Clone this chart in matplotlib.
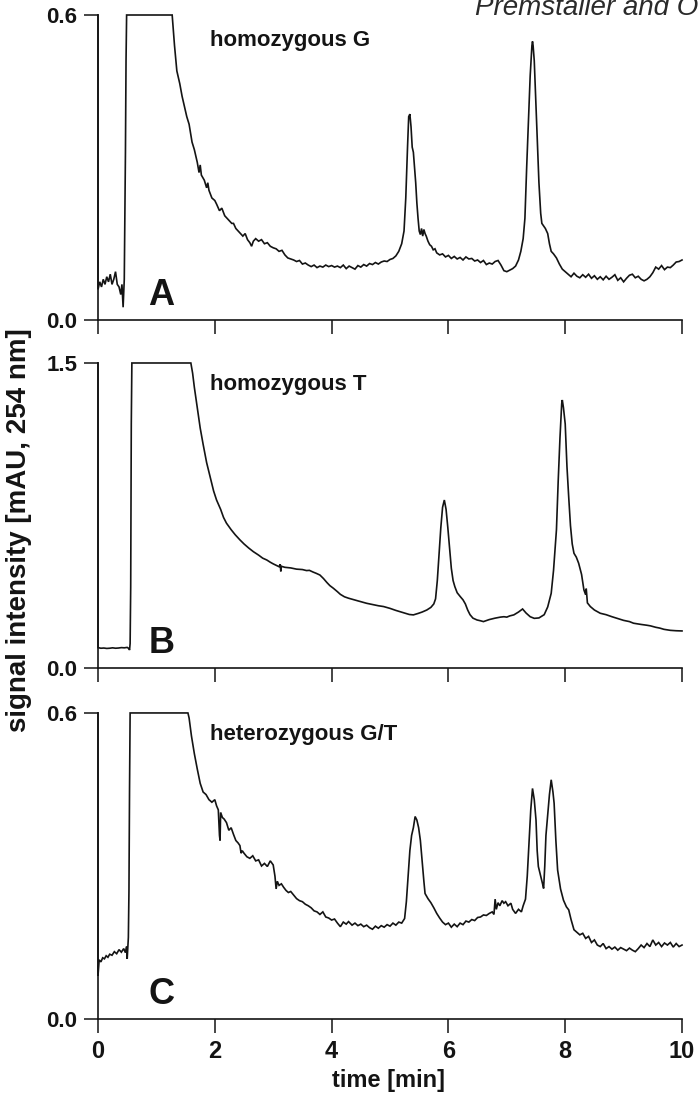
"""
Ion-pair RP-HPLC chromatograms of a G/T SNP (panels A-C).
Values read off the published figure by eye.
"""

import matplotlib.pyplot as plt

# ─────────────────────────────────────────────
# DATA  (time in min, signal in mAU)
# ─────────────────────────────────────────────

A_TIME = [0.00, 0.00, 0.03, 0.06, 0.09, 0.12, 0.15, 0.18, 0.21, 0.24, 0.27, 0.30, 0.33, 0.36, 0.39,
          0.41, 0.43, 0.45, 0.47, 0.48, 0.49, 1.27, 1.31, 1.35, 1.40, 1.44, 1.48, 1.52, 1.56, 1.61,
          1.65, 1.70, 1.73, 1.75, 1.77, 1.82, 1.86, 1.88, 1.90, 1.95, 2.00, 2.03, 2.08, 2.12, 2.17,
          2.21, 2.25, 2.29, 2.32, 2.36, 2.40, 2.44, 2.48, 2.52, 2.56, 2.60, 2.63, 2.66, 2.70, 2.75,
          2.80, 2.85, 2.90, 2.95, 3.00, 3.05, 3.10, 3.15, 3.20, 3.25, 3.30, 3.35, 3.40, 3.45, 3.50,
          3.55, 3.60, 3.65, 3.70, 3.75, 3.80, 3.85, 3.90, 3.95, 4.00, 4.05, 4.10, 4.15, 4.20, 4.25,
          4.30, 4.35, 4.40, 4.45, 4.50, 4.55, 4.60, 4.65, 4.70, 4.75, 4.80, 4.85, 4.90, 4.95, 5.00,
          5.05, 5.10, 5.15, 5.20, 5.24, 5.27, 5.30, 5.32, 5.34, 5.36, 5.38, 5.40, 5.42, 5.44, 5.46,
          5.48, 5.50, 5.52, 5.54, 5.56, 5.58, 5.60, 5.62, 5.65, 5.68, 5.71, 5.74, 5.77, 5.80, 5.85,
          5.90, 5.95, 6.00, 6.05, 6.10, 6.15, 6.20, 6.25, 6.30, 6.35, 6.40, 6.45, 6.50, 6.55, 6.60,
          6.65, 6.70, 6.75, 6.80, 6.85, 6.90, 6.95, 7.00, 7.05, 7.10, 7.15, 7.20, 7.24, 7.28, 7.31,
          7.34, 7.37, 7.40, 7.43, 7.44, 7.45, 7.47, 7.49, 7.51, 7.53, 7.55, 7.58, 7.60, 7.63, 7.66,
          7.70, 7.73, 7.76, 7.80, 7.85, 7.90, 7.95, 8.00, 8.05, 8.10, 8.15, 8.20, 8.25, 8.30, 8.35,
          8.40, 8.45, 8.50, 8.55, 8.60, 8.65, 8.70, 8.75, 8.80, 8.85, 8.90, 8.95, 9.00, 9.05, 9.10,
          9.15, 9.20, 9.25, 9.30, 9.35, 9.40, 9.45, 9.50, 9.55, 9.60, 9.65, 9.70, 9.75, 9.80, 9.85,
          9.90, 9.95, 10.00]
A_SIGNAL = [0.600, 0.060, 0.075, 0.065, 0.080, 0.070, 0.085, 0.075, 0.090, 0.070, 0.080, 0.095, 0.070, 0.065, 0.050,
            0.070, 0.025, 0.080, 0.330, 0.510, 0.600, 0.600, 0.540, 0.490, 0.465, 0.440, 0.420, 0.400, 0.385, 0.350,
            0.335, 0.310, 0.290, 0.305, 0.285, 0.275, 0.260, 0.270, 0.255, 0.240, 0.235, 0.228, 0.215, 0.220, 0.205,
            0.200, 0.195, 0.190, 0.190, 0.180, 0.175, 0.170, 0.165, 0.170, 0.158, 0.152, 0.145, 0.155, 0.160, 0.155,
            0.158, 0.150, 0.152, 0.145, 0.142, 0.140, 0.135, 0.137, 0.128, 0.122, 0.120, 0.118, 0.115, 0.117, 0.110,
            0.112, 0.108, 0.105, 0.108, 0.103, 0.106, 0.104, 0.108, 0.105, 0.107, 0.104, 0.106, 0.103, 0.108, 0.101,
            0.106, 0.103, 0.100, 0.107, 0.104, 0.109, 0.106, 0.111, 0.109, 0.113, 0.110, 0.114, 0.116, 0.115, 0.119,
            0.121, 0.126, 0.135, 0.150, 0.175, 0.240, 0.340, 0.400, 0.405, 0.380, 0.340, 0.330, 0.300, 0.270, 0.230,
            0.200, 0.175, 0.168, 0.180, 0.165, 0.178, 0.170, 0.165, 0.155, 0.148, 0.145, 0.138, 0.140, 0.132, 0.128,
            0.130, 0.124, 0.127, 0.121, 0.125, 0.120, 0.123, 0.118, 0.124, 0.120, 0.121, 0.116, 0.118, 0.113, 0.117,
            0.109, 0.112, 0.110, 0.115, 0.117, 0.108, 0.097, 0.095, 0.098, 0.101, 0.106, 0.118, 0.135, 0.160, 0.200,
            0.300, 0.390, 0.480, 0.540, 0.548, 0.540, 0.510, 0.450, 0.390, 0.330, 0.270, 0.210, 0.190, 0.185, 0.180,
            0.170, 0.150, 0.135, 0.130, 0.122, 0.110, 0.100, 0.095, 0.090, 0.085, 0.092, 0.086, 0.083, 0.089, 0.084,
            0.090, 0.082, 0.087, 0.080, 0.085, 0.079, 0.086, 0.080, 0.084, 0.089, 0.078, 0.083, 0.075, 0.082, 0.088,
            0.090, 0.083, 0.086, 0.080, 0.077, 0.080, 0.085, 0.093, 0.104, 0.100, 0.107, 0.099, 0.104, 0.103, 0.108,
            0.114, 0.115, 0.118]

B_TIME = [0.00, 0.00, 0.05, 0.10, 0.15, 0.20, 0.25, 0.30, 0.35, 0.40, 0.45, 0.50, 0.53, 0.54, 0.55,
          0.56, 0.57, 0.58, 1.59, 1.62, 1.65, 1.70, 1.75, 1.80, 1.86, 1.92, 1.98, 2.03, 2.10, 2.15,
          2.20, 2.28, 2.35, 2.43, 2.50, 2.58, 2.66, 2.75, 2.82, 2.89, 2.95, 3.00, 3.05, 3.10, 3.12,
          3.13, 3.14, 3.20, 3.30, 3.40, 3.50, 3.57, 3.62, 3.68, 3.74, 3.80, 3.86, 3.92, 3.97, 4.03,
          4.10, 4.15, 4.22, 4.29, 4.35, 4.45, 4.55, 4.60, 4.70, 4.80, 4.89, 5.00, 5.10, 5.17, 5.25,
          5.33, 5.40, 5.48, 5.55, 5.63, 5.70, 5.75, 5.78, 5.81, 5.84, 5.87, 5.90, 5.93, 5.96, 5.99,
          6.02, 6.05, 6.08, 6.11, 6.15, 6.20, 6.25, 6.29, 6.33, 6.37, 6.42, 6.49, 6.55, 6.60, 6.70,
          6.80, 6.89, 6.95, 7.00, 7.05, 7.12, 7.20, 7.27, 7.33, 7.40, 7.47, 7.55, 7.64, 7.70, 7.76,
          7.80, 7.85, 7.88, 7.91, 7.94, 7.95, 7.97, 8.00, 8.03, 8.06, 8.09, 8.12, 8.15, 8.19, 8.23,
          8.28, 8.32, 8.35, 8.36, 8.38, 8.43, 8.50, 8.60, 8.70, 8.80, 8.89, 9.00, 9.10, 9.17, 9.30,
          9.40, 9.46, 9.55, 9.62, 9.69, 9.80, 9.90, 10.00]
B_SIGNAL = [1.500, 0.100, 0.097, 0.098, 0.096, 0.097, 0.099, 0.097, 0.098, 0.100, 0.099, 0.101, 0.095, 0.088, 0.120,
            0.400, 1.200, 1.500, 1.500, 1.450, 1.380, 1.280, 1.180, 1.100, 1.010, 0.940, 0.870, 0.826, 0.780, 0.740,
            0.712, 0.680, 0.655, 0.630, 0.610, 0.590, 0.572, 0.555, 0.540, 0.531, 0.520, 0.512, 0.505, 0.498, 0.510,
            0.475, 0.500, 0.495, 0.492, 0.486, 0.484, 0.479, 0.480, 0.472, 0.465, 0.457, 0.440, 0.420, 0.405, 0.392,
            0.375, 0.362, 0.350, 0.343, 0.338, 0.330, 0.322, 0.318, 0.312, 0.306, 0.302, 0.293, 0.283, 0.277, 0.270,
            0.263, 0.261, 0.268, 0.275, 0.285, 0.298, 0.315, 0.340, 0.430, 0.560, 0.690, 0.790, 0.826, 0.780, 0.690,
            0.590, 0.490, 0.430, 0.400, 0.370, 0.352, 0.335, 0.315, 0.285, 0.262, 0.245, 0.236, 0.232, 0.228, 0.238,
            0.245, 0.250, 0.252, 0.250, 0.256, 0.261, 0.275, 0.290, 0.270, 0.252, 0.244, 0.246, 0.262, 0.300, 0.367,
            0.480, 0.680, 0.920, 1.130, 1.300, 1.318, 1.280, 1.200, 0.990, 0.840, 0.700, 0.610, 0.564, 0.545, 0.515,
            0.460, 0.384, 0.360, 0.390, 0.320, 0.302, 0.285, 0.269, 0.262, 0.252, 0.244, 0.234, 0.228, 0.220, 0.214,
            0.210, 0.207, 0.200, 0.196, 0.190, 0.185, 0.183, 0.182]

C_TIME = [0.00, 0.00, 0.02, 0.05, 0.08, 0.11, 0.14, 0.17, 0.20, 0.24, 0.28, 0.32, 0.36, 0.40, 0.44,
          0.47, 0.49, 0.50, 0.52, 0.53, 0.54, 0.55, 1.54, 1.56, 1.60, 1.65, 1.70, 1.75, 1.80, 1.85,
          1.90, 1.95, 2.00, 2.03, 2.06, 2.08, 2.09, 2.10, 2.13, 2.16, 2.20, 2.24, 2.28, 2.32, 2.36,
          2.40, 2.43, 2.45, 2.47, 2.50, 2.55, 2.60, 2.65, 2.70, 2.75, 2.80, 2.85, 2.90, 2.95, 3.00,
          3.03, 3.05, 3.07, 3.10, 3.14, 3.18, 3.22, 3.26, 3.30, 3.35, 3.40, 3.45, 3.50, 3.55, 3.60,
          3.65, 3.70, 3.75, 3.80, 3.85, 3.90, 3.95, 4.00, 4.05, 4.10, 4.15, 4.20, 4.25, 4.29, 4.35,
          4.40, 4.45, 4.50, 4.55, 4.60, 4.65, 4.70, 4.75, 4.80, 4.85, 4.90, 4.95, 5.00, 5.05, 5.10,
          5.15, 5.20, 5.25, 5.28, 5.31, 5.34, 5.37, 5.40, 5.43, 5.46, 5.49, 5.52, 5.55, 5.58, 5.60,
          5.65, 5.70, 5.75, 5.80, 5.85, 5.90, 5.95, 6.00, 6.05, 6.10, 6.15, 6.20, 6.25, 6.30, 6.35,
          6.40, 6.45, 6.50, 6.55, 6.60, 6.65, 6.70, 6.75, 6.78, 6.80, 6.82, 6.85, 6.88, 6.92, 6.95,
          6.98, 7.02, 7.07, 7.10, 7.15, 7.20, 7.25, 7.28, 7.32, 7.35, 7.38, 7.41, 7.44, 7.47, 7.50,
          7.52, 7.54, 7.57, 7.61, 7.63, 7.65, 7.67, 7.70, 7.73, 7.76, 7.79, 7.81, 7.84, 7.87, 7.92,
          7.97, 8.02, 8.06, 8.10, 8.15, 8.20, 8.25, 8.30, 8.35, 8.40, 8.45, 8.50, 8.55, 8.60, 8.65,
          8.70, 8.75, 8.80, 8.85, 8.90, 8.95, 9.00, 9.05, 9.10, 9.15, 9.20, 9.25, 9.30, 9.35, 9.40,
          9.45, 9.50, 9.55, 9.60, 9.65, 9.70, 9.75, 9.80, 9.85, 9.90, 9.95, 10.00]
C_SIGNAL = [0.600, 0.085, 0.116, 0.112, 0.120, 0.118, 0.124, 0.121, 0.127, 0.125, 0.132, 0.128, 0.136, 0.131, 0.138,
            0.130, 0.142, 0.118, 0.160, 0.250, 0.450, 0.600, 0.600, 0.590, 0.555, 0.520, 0.490, 0.462, 0.445, 0.440,
            0.430, 0.425, 0.430, 0.418, 0.410, 0.360, 0.350, 0.405, 0.395, 0.392, 0.385, 0.370, 0.375, 0.362, 0.350,
            0.345, 0.340, 0.325, 0.330, 0.325, 0.318, 0.315, 0.320, 0.310, 0.312, 0.300, 0.305, 0.299, 0.310, 0.302,
            0.280, 0.255, 0.270, 0.262, 0.265, 0.258, 0.252, 0.248, 0.250, 0.243, 0.236, 0.232, 0.230, 0.225, 0.222,
            0.218, 0.212, 0.210, 0.205, 0.210, 0.200, 0.198, 0.194, 0.196, 0.188, 0.181, 0.190, 0.186, 0.191, 0.184,
            0.188, 0.183, 0.186, 0.181, 0.184, 0.179, 0.176, 0.182, 0.178, 0.183, 0.180, 0.185, 0.182, 0.188, 0.184,
            0.190, 0.188, 0.197, 0.230, 0.280, 0.330, 0.360, 0.375, 0.397, 0.390, 0.375, 0.350, 0.310, 0.270, 0.246,
            0.236, 0.228, 0.218, 0.207, 0.198, 0.190, 0.185, 0.188, 0.180, 0.186, 0.181, 0.188, 0.185, 0.192, 0.190,
            0.195, 0.193, 0.199, 0.200, 0.204, 0.203, 0.207, 0.210, 0.205, 0.235, 0.215, 0.228, 0.222, 0.232, 0.227,
            0.230, 0.222, 0.227, 0.215, 0.207, 0.215, 0.210, 0.222, 0.235, 0.280, 0.344, 0.410, 0.452, 0.430, 0.390,
            0.330, 0.299, 0.285, 0.266, 0.256, 0.300, 0.360, 0.400, 0.440, 0.469, 0.445, 0.423, 0.350, 0.292, 0.255,
            0.233, 0.220, 0.214, 0.195, 0.175, 0.170, 0.165, 0.168, 0.158, 0.162, 0.150, 0.155, 0.145, 0.142, 0.148,
            0.138, 0.142, 0.137, 0.141, 0.135, 0.140, 0.137, 0.134, 0.139, 0.135, 0.132, 0.138, 0.145, 0.140, 0.148,
            0.142, 0.155, 0.145, 0.150, 0.142, 0.149, 0.145, 0.150, 0.141, 0.148, 0.142, 0.145]

PANEL_LETTERS = ["A", "B", "C"]
PANEL_LABELS  = ["homozygous G", "homozygous T", "heterozygous G/T"]
Y_MAX         = [0.6, 1.5, 0.6]
Y_TICK_LABELS = [["0.0", "0.6"], ["0.0", "1.5"], ["0.0", "0.6"]]
X_TICKS       = [0, 2, 4, 6, 8, 10]

# ─────────────────────────────────────────────
# STYLE
# ─────────────────────────────────────────────

INK  = "#141414"
FONT = ["Liberation Sans", "DejaVu Sans"]
plt.rcParams["font.family"] = FONT
plt.rcParams["font.weight"] = "bold"

# axes boxes in figure fractions: left, bottom, width, height
AX_POS = [
    (0.1404, 0.7078, 0.8367, 0.2785),
    (0.1404, 0.3900, 0.8367, 0.2785),
    (0.1404, 0.0694, 0.8367, 0.2795),
]
LABEL_Y = [0.897, 0.912, 0.912]


def main():
    fig = plt.figure(figsize=(6.98, 10.95), dpi=100)
    series = [(A_TIME, A_SIGNAL), (B_TIME, B_SIGNAL), (C_TIME, C_SIGNAL)]

    for i, (t, s) in enumerate(series):
        ax = fig.add_axes(AX_POS[i])
        ax.plot(t, s, color=INK, lw=1.2, clip_on=False, solid_joinstyle="miter")

        ax.set_xlim(0, 10)
        ax.set_ylim(0, Y_MAX[i])
        ax.set_xticks(X_TICKS)
        ax.set_yticks([0, Y_MAX[i]])
        ax.set_yticklabels(Y_TICK_LABELS[i])

        for side in ("top", "right"):
            ax.spines[side].set_visible(False)
        for side in ("left", "bottom"):
            ax.spines[side].set_linewidth(1.2)
            ax.spines[side].set_color(INK)

        ax.tick_params(direction="out", length=10, width=1.1, color=INK,
                       labelcolor=INK, labelsize=16, pad=5)
        ax.tick_params(axis="x", pad=5, labelsize=17, labelbottom=(i == 2))

        ax.text(0.086, 0.05, PANEL_LETTERS[i], transform=ax.transAxes,
                fontsize=26, fontweight="bold", color=INK, va="baseline", ha="left")
        ax.text(0.192, LABEL_Y[i], PANEL_LABELS[i], transform=ax.transAxes,
                fontsize=16, fontweight="bold", color=INK, va="baseline", ha="left")

    fig.text(0.027, 1 - 530 / 1095, "signal intensity [mAU, 254 nm]", rotation=90,
             fontsize=20, fontweight="bold", color=INK, ha="center", va="center")
    fig.text(388 / 698, 1 - 1080 / 1095, "time [min]",
             fontsize=17, fontweight="bold", color=INK, ha="center", va="center")

    # running header of the journal page, cut by the page edge as in the print
    fig.text(475 / 698, 1 - 15 / 1095, "Premstaller and Oefner", fontsize=20,
             fontstyle="italic", fontweight="normal", color="#2a2a2a",
             ha="left", va="baseline")

    fig.savefig("out.png", dpi=100)
    plt.close(fig)


if __name__ == "__main__":
    main()
